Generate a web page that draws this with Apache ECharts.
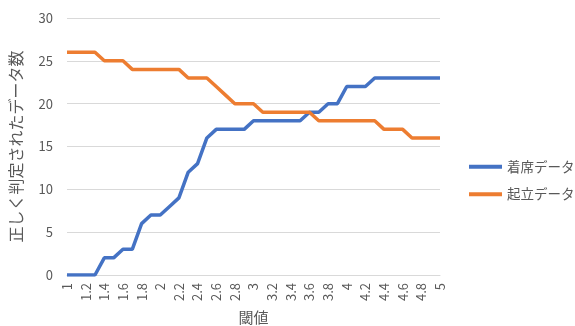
<!DOCTYPE html>
<html>
<head>
<meta charset="utf-8">
<script src="https://cdn.jsdelivr.net/npm/echarts@6/dist/echarts.min.js"></script>
<style>
	html, body { margin: 0; padding: 0; background: #fff; }
	#chart1 { width: 575px; height: 326px; }
</style>
</head>
<body>
<div id="chart1"></div>
<script>
// 閾値（カテゴリ）
var thresholds = ['1', '1.1', '1.2', '1.3', '1.4', '1.5', '1.6', '1.7', '1.8', '1.9',
	'2', '2.1', '2.2', '2.3', '2.4', '2.5', '2.6', '2.7', '2.8', '2.9',
	'3', '3.1', '3.2', '3.3', '3.4', '3.5', '3.6', '3.7', '3.8', '3.9',
	'4', '4.1', '4.2', '4.3', '4.4', '4.5', '4.6', '4.7', '4.8', '4.9', '5'];
// 着席データ
var sitting = [0, 0, 0, 0, 2, 2, 3, 3, 6, 7,
	7, 8, 9, 12, 13, 16, 17, 17, 17, 17,
	18, 18, 18, 18, 18, 18, 19, 19, 20, 20,
	22, 22, 22, 23, 23, 23, 23, 23, 23, 23, 23];
// 起立データ
var standing = [26, 26, 26, 26, 25, 25, 25, 24, 24, 24,
	24, 24, 24, 23, 23, 23, 22, 21, 20, 20,
	20, 19, 19, 19, 19, 19, 19, 18, 18, 18,
	18, 18, 18, 18, 17, 17, 17, 16, 16, 16, 16];
var seriesNames = ['着席データ', '起立データ'];

var font = '"Noto Sans CJK JP", "Noto Sans", sans-serif';
var textColor = '#595959';

var myChart1 = echarts.init(document.getElementById('chart1'));
var option1 = {
	animation: false,
	textStyle: { fontFamily: font },
	grid: {
		left: 67,
		right: 135,
		top: 18,
		bottom: 51,
		containLabel: false,
		outerBoundsMode: 'none' // v6: 自動縮小しない
	},
	legend: {
		orient: 'vertical',
		left: 464,
		top: 155,
		icon: 'rect',
		itemWidth: 33,
		itemHeight: 4,
		itemGap: 14,
		textStyle: { color: textColor, fontSize: 13.5, fontFamily: font },
		data: seriesNames
	},
	xAxis: {
		type: 'category',
		boundaryGap: false,
		data: thresholds,
		name: '閾値',
		nameLocation: 'middle',
		nameGap: 35,
		nameTextStyle: { color: textColor, fontSize: 15, verticalAlign: 'top' },
		axisLine: { lineStyle: { color: '#d9d9d9', width: 1 } },
		axisTick: { show: false },
		axisLabel: {
			interval: 1, //1つおきに表示
			rotate: 90,
			margin: 8,
			color: textColor,
			fontSize: 13
		}
	},
	yAxis: {
		type: 'value',
		min: 0,
		max: 30,
		interval: 5,
		name: '正しく判定されたデータ数',
		nameLocation: 'middle',
		nameRotate: 90,
		nameGap: 43,
		nameTextStyle: { color: textColor, fontSize: 16 },
		axisLine: { show: false },
		axisTick: { show: false },
		axisLabel: { color: textColor, fontSize: 13, margin: 14 },
		splitLine: { lineStyle: { color: '#d9d9d9', width: 1 } }
	},
	series: [{
			name: seriesNames[0],
			type: 'line',
			data: sitting,
			showSymbol: false,
			symbol: 'none',
			color: '#4472C4',
			lineStyle: { width: 3.5, color: '#4472C4' }
		},
		{
			name: seriesNames[1],
			type: 'line',
			data: standing,
			showSymbol: false,
			symbol: 'none',
			color: '#ED7D31',
			lineStyle: { width: 3.5, color: '#ED7D31' }
		}
	]
};
myChart1.setOption(option1);
</script>
</body>
</html>
